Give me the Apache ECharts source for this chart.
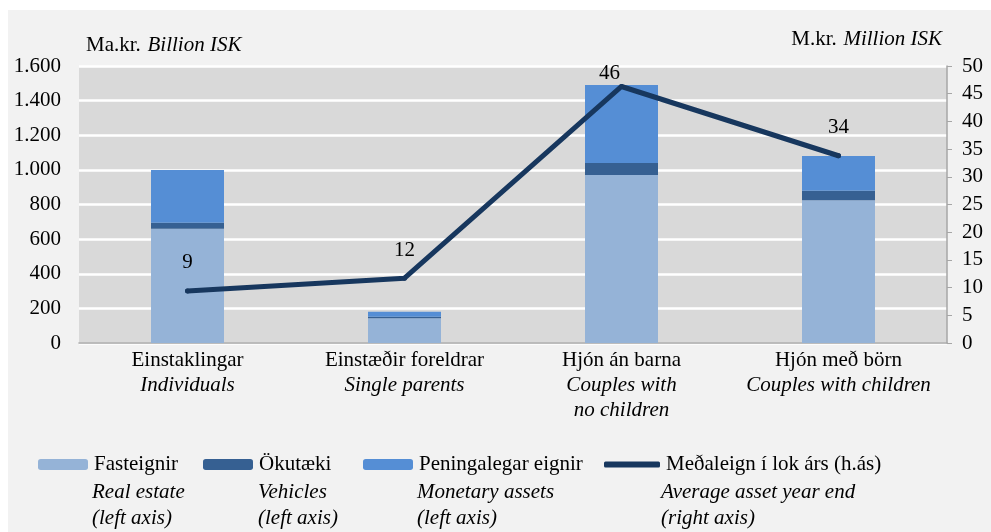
<!DOCTYPE html>
<html>
<head>
    <meta charset="utf-8">
    <title>Eignir heimila</title>
    <script src="https://cdn.jsdelivr.net/npm/echarts@6.0.0/dist/echarts.min.js"></script>
    <style>
        body { margin: 0; background: #fff; }
        #chart { width: 991px; height: 532px; }
    </style>
</head>
<body>
    <div id="chart"></div>
    <script>
        // flokkar (categories)
        var categories = ['Einstaklingar', 'Einstæðir foreldrar', 'Hjón án barna', 'Hjón með börn'];
        var categoriesEn = ['Individuals', 'Single parents', 'Couples with\nno children', 'Couples with children'];

        // vinstri ás, ma.kr.
        var fasteignir = [660, 143, 970, 825];
        var okutaeki = [35, 8, 70, 55];
        var peningalegar = [305, 29, 450, 200];
        // hægri ás, m.kr.
        var medaleign = [9.4, 11.7, 46.3, 33.8];

        var leftTicks = { min: 0, max: 1600, interval: 200 };
        var rightTicks = { min: 0, max: 50, interval: 5 };

        var seriesNames = ['Fasteignir', 'Ökutæki', 'Peningalegar eignir', 'Meðaleign í lok árs (h.ás)'];
        var seriesNotes = ['Real estate\n(left axis)', 'Vehicles\n(left axis)', 'Monetary assets\n(left axis)', 'Average asset year end\n(right axis)'];

        var font = 'Liberation Serif';
        var fs = 21;
        var colors = ['#95b3d7', '#366092', '#558ed5', '#17375e'];

        var myChart = echarts.init(document.getElementById('chart'));

        // legend staðsetning
        var legendLeft = [33, 198, 358, 599];
        var legendText = [95, 261, 420, 664];

        var legends = seriesNames.map(function (n, i) {
            var isLine = i === 3;
            return {
                data: [isLine ? { name: n, icon: 'roundRect' } : n],
                left: legendLeft[i],
                top: 449,
                itemWidth: isLine ? 56 : 50,
                itemHeight: isLine ? 6 : 11,
                itemGap: 0,
                selectedMode: false,
                textStyle: { fontFamily: font, fontSize: fs, color: '#000', padding: [0, 0, 0, 1] }
            };
        });

        var notes = seriesNotes.map(function (t, i) {
            return {
                type: 'text',
                left: legendText[i] - 3,
                top: 479,
                style: { text: t, fontFamily: font, fontStyle: 'italic', fontSize: fs, lineHeight: 26, fill: '#000' }
            };
        });

        var option = {
            backgroundColor: '#fff',
            animation: false,
            graphic: [
                { type: 'rect', left: 8, top: 10, z: -100, silent: true, shape: { width: 983, height: 522 }, style: { fill: '#f2f2f2' } },
                {
                    type: 'text', left: 86, top: 35,
                    style: {
                        text: '{a|Ma.kr.}  {b|Billion ISK}',
                        rich: {
                            a: { fontFamily: font, fontSize: fs, fill: '#000' },
                            b: { fontFamily: font, fontSize: fs, fontStyle: 'italic', fill: '#000' }
                        }
                    }
                },
                {
                    type: 'text', right: 49, top: 29,
                    style: {
                        text: '{a|M.kr.}  {b|Million ISK}',
                        rich: {
                            a: { fontFamily: font, fontSize: fs, fill: '#000' },
                            b: { fontFamily: font, fontSize: fs, fontStyle: 'italic', fill: '#000' }
                        }
                    }
                }
            ].concat(notes),
            legend: legends,
            grid: {
                left: 79, right: 44, top: 66, bottom: 189,
                show: true, backgroundColor: '#d9d9d9', borderWidth: 0
            },
            xAxis: {
                type: 'category',
                data: categories,
                axisLine: { lineStyle: { color: '#a6a6a6', width: 1.5 } },
                axisTick: { show: false },
                axisLabel: {
                    margin: 5,
                    interval: 0,
                    formatter: function (v, i) {
                        var en = categoriesEn[i].split('\n').map(function (s) { return '{b|' + s + '}'; }).join('\n');
                        return '{a|' + v + '}\n' + en;
                    },
                    rich: {
                        a: { fontFamily: font, fontSize: fs, color: '#000', lineHeight: 25 },
                        b: { fontFamily: font, fontSize: fs, fontStyle: 'italic', color: '#000', lineHeight: 25 }
                    }
                }
            },
            yAxis: [
                {
                    type: 'value',
                    min: leftTicks.min, max: leftTicks.max, interval: leftTicks.interval,
                    axisLine: { show: false },
                    axisTick: { show: false },
                    splitLine: { lineStyle: { color: '#fff', width: 2.5 } },
                    axisLabel: {
                        margin: 18,
                        fontFamily: font, fontSize: fs, color: '#000',
                        formatter: function (v) { return String(v).replace(/\B(?=(\d{3})+(?!\d))/g, '.'); }
                    }
                },
                {
                    type: 'value',
                    position: 'right',
                    min: rightTicks.min, max: rightTicks.max, interval: rightTicks.interval,
                    axisLine: { show: true, lineStyle: { color: '#a6a6a6', width: 1.5 } },
                    axisTick: { show: true, length: 5, lineStyle: { color: '#a6a6a6' } },
                    splitLine: { show: false },
                    axisLabel: { margin: 15, fontFamily: font, fontSize: fs, color: '#000' }
                }
            ],
            series: [
                { name: seriesNames[0], type: 'bar', stack: 'a', barWidth: 73, data: fasteignir, itemStyle: { color: colors[0] } },
                { name: seriesNames[1], type: 'bar', stack: 'a', barWidth: 73, data: okutaeki, itemStyle: { color: colors[1] } },
                { name: seriesNames[2], type: 'bar', stack: 'a', barWidth: 73, data: peningalegar, itemStyle: { color: colors[2] } },
                {
                    name: seriesNames[3], type: 'line', yAxisIndex: 1,
                    symbol: 'circle', symbolSize: 5, showSymbol: true,
                    lineStyle: { color: colors[3], width: 5, cap: 'round', join: 'round' },
                    itemStyle: { color: colors[3] },
                    data: medaleign.map(function (v, i) {
                        var d = { value: v };
                        if (i === 2) d.label = { distance: 0, offset: [-12, 0] };
                        return d;
                    }),
                    label: {
                        show: true, position: 'top', distance: 15,
                        fontFamily: font, fontSize: fs, color: '#000',
                        formatter: function (p) { return Math.round(p.value); }
                    }
                }
            ]
        };

        myChart.setOption(option);
    </script>
</body>
</html>
